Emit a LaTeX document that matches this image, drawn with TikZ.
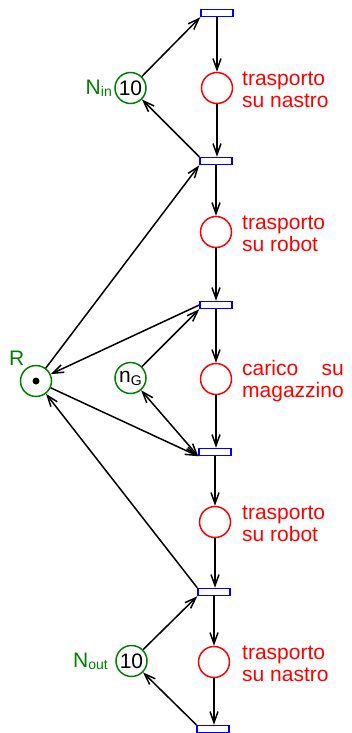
\documentclass[tikz,border=0pt]{standalone}
\usepackage{fontspec}
\setmainfont{Liberation Sans}
\usetikzlibrary{arrows.meta}
\definecolor{pgreen}{RGB}{0,128,0}
\begin{document}
\begin{tikzpicture}[x=1pt,y=-1pt,
  font=\fontsize{21pt}{22pt}\selectfont,
  trans/.style={draw=blue,fill=white,line width=1.5pt,minimum width=32pt,minimum height=7pt,inner sep=0pt},
  place/.style={circle,draw=red,line width=1.5pt,minimum size=31pt,inner sep=0pt},
  res/.style={circle,draw=pgreen,line width=1.5pt,minimum size=31pt,inner sep=0pt},
  lab/.style={text=red,align=left,anchor=west,inner sep=0pt},
  glab/.style={text=pgreen,inner sep=0pt},
  arc/.style={line width=1.5pt,-{Straight Barb[length=11pt,width=8pt,line width=1.5pt]}},
  darc/.style={line width=1.5pt,{Straight Barb[length=11pt,width=8pt,line width=1.5pt]}-{Straight Barb[length=11pt,width=8pt,line width=1.5pt]}}
]
\useasboundingbox (0,0) rectangle (351,733);
% places
\node[place] (P1) at (217,88) {};
\node[place] (P2) at (216,232) {};
\node[place] (P3) at (216,379) {};
\node[place] (P4) at (215,522) {};
\node[place] (P5) at (214,662) {};
% resources
\node[res] (Nin) at (130.5,88) {10};
\node[res] (R) at (36,381) {};
\fill (R.center) circle (3.5pt);
\node[res] (nG) at (130.5,378) {n\raisebox{-3pt}{\fontsize{14pt}{14pt}\selectfont G}};
\node[res] (Nout) at (131.5,661) {10};
% transitions
\node[trans] (T1) at (217,13) {};
\node[trans] (T2) at (216,161) {};
\node[trans] (T3) at (216,305) {};
\node[trans] (T4) at (215,452) {};
\node[trans] (T5) at (214,592) {};
\node[trans] (T6) at (213,729) {};
% labels
\node[lab] (L1) at (242,90) {trasporto\\su nastro};
\node[lab] (L2) at (242,234) {trasporto\\su robot};
\node[lab] (L3) at (242,381) {\setbox0\hbox{magazzino}\hbox to \wd0{carico\hfill su}\\magazzino};
\node[lab] (L4) at (242,524) {trasporto\\su robot};
\node[lab] (L5) at (242,664) {trasporto\\su nastro};
\node[glab,anchor=base east] (LNin) at (112,95) {N\raisebox{-2pt}{\fontsize{14pt}{14pt}\selectfont in}};
\node[glab,anchor=base west] (LR) at (9,365) {R};
\node[glab,anchor=base east] (LNout) at (108,667) {N\raisebox{-2pt}{\fontsize{14pt}{14pt}\selectfont out}};
% main chain
\draw[arc] (T1.south) -- (P1);
\draw[arc] (P1) -- (T2.north -| P1);
\draw[arc] (T2.south) -- (P2);
\draw[arc] (P2) -- (T3.north -| P2);
\draw[arc] (T3.south) -- (T3.south |- P3.north);
\draw[arc] (P3) -- (T4.north -| P3);
\draw[arc] (T4.south) -- (P4);
\draw[arc] (P4) -- (T5.north -| P4);
\draw[arc] (T5.south) -- (P5);
\draw[arc] (P5) -- (T6.north -| P5);
% side arcs
\draw[arc] (Nin) -- (T1.south west);
\draw[arc] (T2.north west) -- (Nin);
\draw[arc] (R) -- (T2.south west);
\draw[arc] (T3.west) -- (R);
\draw[arc] (nG) -- (T3.south west);
\draw[darc] (nG) -- (T4.south west);
\draw[arc] (R) -- (T4.south west);
\draw[arc] (T5.north west) -- (R);
\draw[arc] (Nout) -- (T5.south west);
\draw[arc] (T6.north west) -- (Nout);
\end{tikzpicture}
\end{document}
